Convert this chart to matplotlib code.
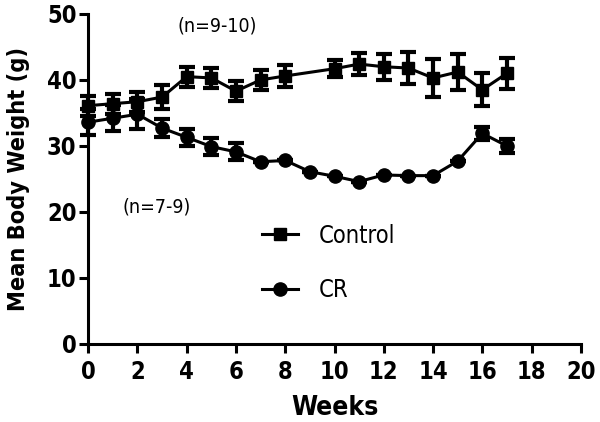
import matplotlib
matplotlib.use("Agg")
import matplotlib.pyplot as plt

plt.rcParams["font.family"] = "DejaVu Sans"
plt.rcParams["font.stretch"] = "condensed"

# weeks and mean body weight (g)
ctrl_weeks = [0, 1, 2, 3, 4, 5, 6, 7, 8, 10, 11, 12, 13, 14, 15, 16, 17]
ctrl_mean = [36.1, 36.4, 36.7, 37.4, 40.5, 40.3, 38.3, 40.0, 40.6, 41.7, 42.4, 42.0, 41.8, 40.3, 41.2, 38.5, 41.0]
ctrl_err = [1.5, 1.5, 1.5, 1.8, 1.5, 1.5, 1.5, 1.5, 1.6, 1.3, 1.7, 2.0, 2.4, 2.9, 2.8, 2.5, 2.3]

cr_weeks = list(range(18))
cr_mean = [33.6, 34.2, 34.8, 32.7, 31.3, 29.9, 29.1, 27.6, 27.8, 26.1, 25.4, 24.6, 25.6, 25.5, 25.5, 27.7, 31.9, 30.0]
cr_err = [2.0, 2.0, 2.3, 1.4, 1.3, 1.3, 1.3, 0, 0, 0, 0, 0, 0, 0, 0, 0, 1.0, 1.1]

fig = plt.figure(figsize=(6, 4.22), dpi=100)
ax = fig.add_axes([0.147, 0.185, 0.821, 0.782])

ax.errorbar(ctrl_weeks, ctrl_mean, yerr=ctrl_err, fmt="none", ecolor="black",
            elinewidth=3, capsize=5.5, capthick=3, clip_on=False)
ax.errorbar(cr_weeks, cr_mean, yerr=cr_err, fmt="none", ecolor="black",
            elinewidth=3, capsize=5.5, capthick=3, clip_on=False)
ax.plot(ctrl_weeks, ctrl_mean, color="black", marker="s", markersize=9,
        linewidth=2.2, label="Control", clip_on=False)
ax.plot(cr_weeks, cr_mean, color="black", marker="o", markersize=9.5,
        linewidth=2.2, label="CR", clip_on=False)

ax.text(5.23, 48.2, "(n=9-10)", fontsize=14, ha="center", va="center")
ax.text(2.76, 20.8, "(n=7-9)", fontsize=14, ha="center", va="center")

ax.set_xlim(0, 20)
ax.set_ylim(0, 50)
ax.set_xticks(range(0, 21, 2))
ax.set_yticks(range(0, 51, 10))
for s in ["top", "right"]:
    ax.spines[s].set_visible(False)
for s in ["left", "bottom"]:
    ax.spines[s].set_linewidth(2.2)
ax.tick_params(width=2.2, length=6.5, labelsize=17)
ax.tick_params(axis="x", pad=5)
ax.tick_params(axis="y", pad=2)
for lab in ax.get_xticklabels() + ax.get_yticklabels():
    lab.set_fontweight("bold")
ax.set_xlabel("Weeks", fontsize=19, fontweight="bold", labelpad=8)
ax.set_ylabel("Mean Body Weight (g)", fontsize=16.8, fontweight="bold", labelpad=12)

ax.legend(loc="center left", bbox_to_anchor=(0.353, 0.245), frameon=False,
          fontsize=17, handlelength=1.5, handletextpad=0.9, labelspacing=1.3,
          borderpad=0, borderaxespad=0)

fig.savefig("out.png", dpi=100)
